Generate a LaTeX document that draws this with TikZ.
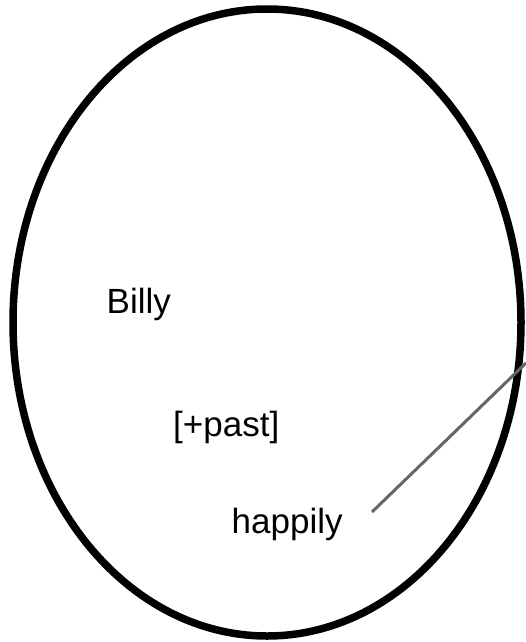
\documentclass[tikz,border=0pt]{standalone}
\usepackage{fontspec}
\setmainfont{Liberation Sans}
\usetikzlibrary{shapes.geometric}

\begin{document}
\begin{tikzpicture}[
  x=1pt, y=-1pt,
  every node/.style={font=\fontsize{35}{40}\selectfont, inner sep=0pt, anchor=base west},
  clause/.style={ellipse, draw, line width=7.5pt, minimum width=508pt, minimum height=627pt, anchor=center},
  pointer/.style={draw=black!60, line width=3pt}
]
\useasboundingbox (0,0) rectangle (526,642);

\node[clause] (vp) at (267,322.5) {};

\node (billy) at (106.5,313) {Billy};
\node (past) at (173,436.5) {[+past]};
\node (happily) at (231.5,533) {happily};

\coordinate (tail) at (372,512);
\coordinate (out) at (526,363);
\draw[pointer] (tail) -- (out);

\end{tikzpicture}
\end{document}
